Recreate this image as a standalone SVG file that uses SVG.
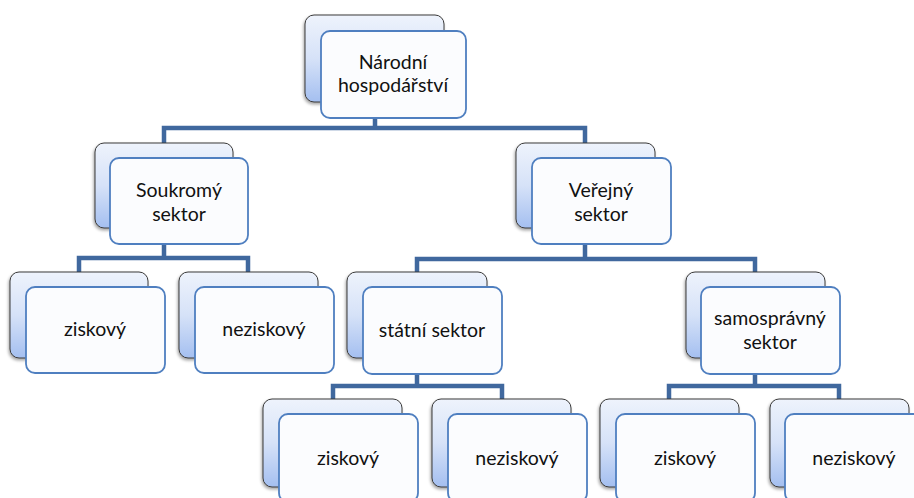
<svg xmlns="http://www.w3.org/2000/svg" width="914" height="498" viewBox="0 0 914 498">
<defs>
<linearGradient id="bg" x1="0" y1="0" x2="0" y2="1">
<stop offset="0" stop-color="#eef3fc"/>
<stop offset="0.5" stop-color="#d6e2f8"/>
<stop offset="1" stop-color="#a4bff0"/>
</linearGradient>
<filter id="sh" x="-10%" y="-10%" width="125%" height="130%">
<feDropShadow dx="-1" dy="2" stdDeviation="1.5" flood-color="#000" flood-opacity="0.35"/>
</filter>
</defs>
<style>
.back{fill:url(#bg);stroke:#3a3a3a;stroke-width:1;filter:url(#sh)}
.front{fill:#fbfcfe;stroke:#4f7fc0;stroke-width:1.8}
.conn{fill:none;stroke:#40689e;stroke-width:4.5;stroke-linejoin:miter}
text{font-family:Lato,"Open Sans","Liberation Sans",sans-serif;font-size:19.5px;fill:#111;text-anchor:middle}
</style>
<g id="connectors">
<path class="conn" d="M375,118 V128 M164,143 V128 H585 V143"/>
<path class="conn" d="M164,244 V258 M79,272 V258 H248 V272"/>
<path class="conn" d="M585,244 V259 M417,272 V259 H755 V272"/>
<path class="conn" d="M417,374 V386 M333,399 V386 H502 V399"/>
<path class="conn" d="M755,374 V386 M669,399 V386 H839 V399"/>
</g>
<g id="n1">
<rect class="back" x="305" y="15" width="139" height="87" rx="9"/>
<rect class="front" x="321" y="31" width="145" height="87" rx="9"/>
<text x="393" y="69">Národní</text>
<text x="393" y="92">hospodářství</text>
</g>
<g id="n2">
<rect class="back" x="95" y="143" width="138" height="85" rx="9"/>
<rect class="front" x="110" y="158" width="138" height="86" rx="9"/>
<text x="179" y="197">Soukromý</text>
<text x="179" y="221">sektor</text>
</g>
<g id="n3">
<rect class="back" x="516" y="143" width="139" height="85" rx="9"/>
<rect class="front" x="532" y="158" width="139" height="86" rx="9"/>
<text x="601" y="197">Veřejný</text>
<text x="601" y="221">sektor</text>
</g>
<g id="n4">
<rect class="back" x="10" y="272" width="138" height="86" rx="9"/>
<rect class="front" x="26" y="287" width="139" height="86" rx="9"/>
<text x="95" y="336">ziskový</text>
</g>
<g id="n5">
<rect class="back" x="179" y="272" width="139" height="86" rx="9"/>
<rect class="front" x="195" y="287" width="139" height="86" rx="9"/>
<text x="264" y="336">neziskový</text>
</g>
<g id="n6">
<rect class="back" x="347" y="272" width="140" height="86" rx="9"/>
<rect class="front" x="363" y="287" width="139" height="87" rx="9"/>
<text x="432" y="337">státní sektor</text>
</g>
<g id="n7">
<rect class="back" x="686" y="272" width="139" height="86" rx="9"/>
<rect class="front" x="701" y="287" width="139" height="87" rx="9"/>
<text x="770" y="325">samosprávný</text>
<text x="770" y="349">sektor</text>
</g>
<g id="n8">
<rect class="back" x="263" y="399" width="139" height="88" rx="9"/>
<rect class="front" x="279" y="414" width="139" height="88" rx="9"/>
<text x="348" y="465">ziskový</text>
</g>
<g id="n9">
<rect class="back" x="432" y="399" width="139" height="88" rx="9"/>
<rect class="front" x="448" y="414" width="139" height="88" rx="9"/>
<text x="517" y="465">neziskový</text>
</g>
<g id="n10">
<rect class="back" x="600" y="399" width="139" height="88" rx="9"/>
<rect class="front" x="616" y="414" width="139" height="88" rx="9"/>
<text x="685" y="465">ziskový</text>
</g>
<g id="n11">
<rect class="back" x="770" y="399" width="139" height="88" rx="9"/>
<rect class="front" x="785" y="414" width="139" height="88" rx="9"/>
<text x="854" y="465">neziskový</text>
</g>
</svg>
